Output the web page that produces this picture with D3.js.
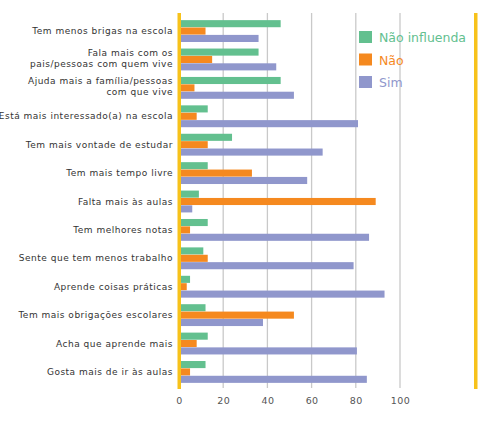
<!DOCTYPE html>
<html>
<head>
<meta charset="utf-8">
<script src="https://cdn.jsdelivr.net/npm/d3@7"></script>
<style>
  body { margin: 0; background: #fff; }
  svg { display: block; font-family: "DejaVu Sans", Verdana, sans-serif; }
</style>
</head>
<body>
<svg></svg>
<script>
// categories (top to bottom)
var categories = [
    "Tem menos brigas na escola",
    "Fala mais com os|pais/pessoas com quem vive",
    "Ajuda mais a família/pessoas|com que vive",
    "Está mais interessado(a) na escola",
    "Tem mais vontade de estudar",
    "Tem mais tempo livre",
    "Falta mais às aulas",
    "Tem melhores notas",
    "Sente que tem menos trabalho",
    "Aprende coisas práticas",
    "Tem mais obrigações escolares",
    "Acha que aprende mais",
    "Gosta mais de ir às aulas"
];
var seriesNames = ["Não influenda", "Não", "Sim"];
var naoInfluencia = [46, 36, 46, 13, 24, 13, 9, 13, 11, 5, 12, 13, 12];
var nao = [12, 15, 7, 8, 13, 33, 89, 5, 13, 3.5, 52, 8, 5];
var sim = [36, 44, 52, 81, 65, 58, 6, 86, 79, 93, 38, 80.5, 85];
var xTicks = [0, 20, 40, 60, 80, 100];

var colors = ["#63c08f", "#f5891f", "#9097cc"];

var width = 482, height = 433;
var svg = d3.select("svg").attr("width", width).attr("height", height);

var x = d3.scaleLinear().domain([0, 100]).range([179, 400]);
var y = d3.scaleBand().domain(categories).range([17, 386]).paddingInner(0.21).paddingOuter(0.1);
var sub = d3.scaleBand().domain([0, 1, 2]).range([0, y.bandwidth()]).padding(0.04);

// gridlines
svg.append("g").selectAll("line")
    .data(xTicks.slice(1))
    .enter().append("line")
    .attr("x1", function (d) { return x(d); })
    .attr("x2", function (d) { return x(d); })
    .attr("y1", 13).attr("y2", 388)
    .attr("stroke", "#c9c9c9").attr("stroke-width", 1.3);

// tick labels
var xAxis = svg.append("g")
    .attr("transform", "translate(0,388)")
    .call(d3.axisBottom(x).tickValues(xTicks).tickSize(0).tickPadding(9));
xAxis.select(".domain").remove();
xAxis.selectAll("text")
    .attr("font-size", 9.5)
    .attr("font-family", "DejaVu Sans, sans-serif")
    .attr("letter-spacing", 0.4)
    .attr("fill", "#555");

// bars
var series = [naoInfluencia, nao, sim];
series.forEach(function (vals, si) {
    svg.append("g").selectAll("rect")
        .data(vals)
        .enter().append("rect")
        .attr("x", x(0))
        .attr("y", function (d, i) { return y(categories[i]) + sub(si); })
        .attr("width", function (d) { return x(d) - x(0); })
        .attr("height", sub.bandwidth())
        .attr("fill", colors[si]);
});

// yellow frame lines
svg.append("rect").attr("x", 177.5).attr("y", 13).attr("width", 3.5).attr("height", 376).attr("fill", "#f7c21b");
svg.append("rect").attr("x", 474).attr("y", 13).attr("width", 3.5).attr("height", 376).attr("fill", "#f7c21b");

// category labels
var labels = svg.append("g").selectAll("text")
    .data(categories)
    .enter().append("text")
    .attr("text-anchor", "end")
    .attr("font-size", 9)
    .attr("letter-spacing", 0.5)
    .attr("fill", "#333");
labels.each(function (d) {
    var lines = d.split("|");
    var cy = y(d) + y.bandwidth() / 2 - (lines.length > 1 ? 1 : 0);
    var t = d3.select(this);
    lines.forEach(function (ln, k) {
        t.append("tspan")
            .attr("x", 173)
            .attr("y", cy + (k - (lines.length - 1) / 2) * 11 + 3)
            .text(ln);
    });
});

// legend
var legend = svg.append("g").selectAll("g")
    .data(seriesNames)
    .enter().append("g")
    .attr("transform", function (d, i) { return "translate(359," + (31 + i * 22.5) + ")"; });
legend.append("rect")
    .attr("width", 13).attr("height", 12)
    .attr("fill", function (d, i) { return colors[i]; });
legend.append("text")
    .attr("x", 20).attr("y", 11)
    .attr("font-size", 12.5)
    .attr("fill", function (d, i) { return colors[i]; })
    .text(function (d) { return d; });
</script>
</body>
</html>
